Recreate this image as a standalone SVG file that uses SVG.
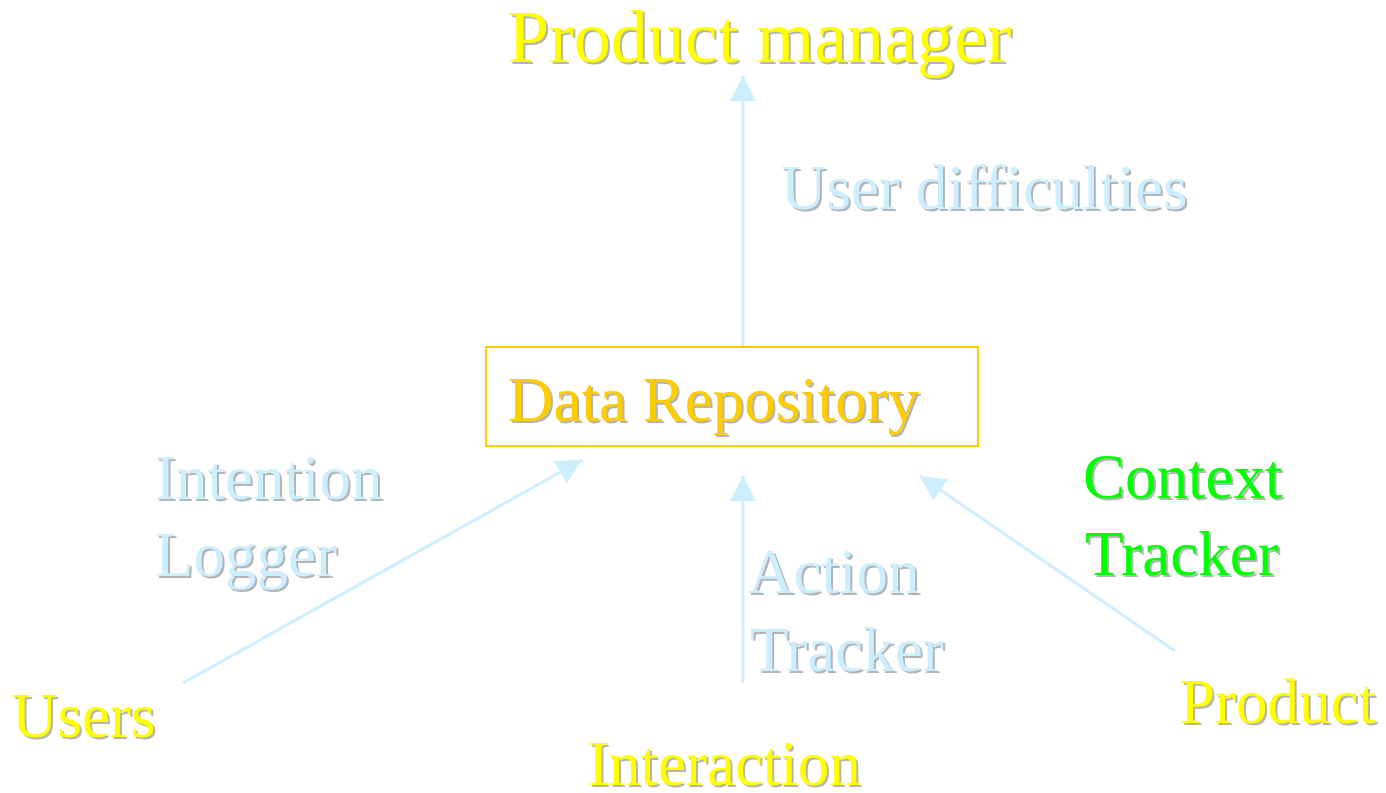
<svg xmlns="http://www.w3.org/2000/svg" width="1386" height="793" viewBox="0 0 1386 793">
<style>
  text { font-family: "Liberation Serif", "Times New Roman", serif; font-size: 63px; }
  .big { font-size: 74px; }
  .sh { fill: #b4b4b4; }
  .yel { fill: #ffff00; }
  .blu { fill: #cceeff; }
  .org { fill: #ffcc00; }
  .grn { fill: #00ff00; }
  .conn { stroke: #cceeff; stroke-width: 3; fill: none; }
</style>
<defs>
  <marker id="ah" markerUnits="userSpaceOnUse" markerWidth="26" markerHeight="26" refX="25" refY="13" orient="auto">
    <path d="M0,0 L25,13 L0,26 Z" fill="#cceeff"/>
  </marker>
</defs>
<rect width="1386" height="793" fill="#ffffff"/>

<g id="connectors">
  <line class="conn" x1="743" y1="346" x2="743" y2="76" marker-end="url(#ah)"/>
  <line class="conn" x1="743" y1="683" x2="743" y2="476" marker-end="url(#ah)"/>
  <line class="conn" x1="183" y1="683" x2="582" y2="460" marker-end="url(#ah)"/>
  <line class="conn" x1="1175" y1="651" x2="920" y2="476" marker-end="url(#ah)"/>
</g>

<g id="product-manager">
  <text class="big sh" x="510" y="64">Product manager</text>
  <text class="big yel" x="508" y="62">Product manager</text>
</g>

<g id="user-difficulties">
  <text class="sh" x="783" y="211">User difficulties</text>
  <text class="blu" x="781" y="209">User difficulties</text>
</g>

<g id="data-repository">
  <rect x="486" y="347" width="492" height="99" fill="none" stroke="#ffcc00" stroke-width="2"/>
  <text class="sh" x="510" y="423">Data Repository</text>
  <text class="org" x="508" y="421">Data Repository</text>
</g>

<g id="intention-logger">
  <text class="sh" x="157" y="501">Intention</text>
  <text class="blu" x="155" y="499">Intention</text>
  <text class="sh" x="157" y="578">Logger</text>
  <text class="blu" x="155" y="576">Logger</text>
</g>

<g id="context-tracker">
  <text class="sh" x="1085" y="500">Context</text>
  <text class="grn" x="1083" y="498">Context</text>
  <text class="sh" x="1087" y="577">Tracker</text>
  <text class="grn" x="1085" y="575">Tracker</text>
</g>

<g id="action-tracker">
  <text class="sh" x="750" y="595">Action</text>
  <text class="blu" x="748" y="593">Action</text>
  <text class="sh" x="752" y="673">Tracker</text>
  <text class="blu" x="750" y="671">Tracker</text>
</g>

<g id="users">
  <text class="sh" x="14" y="739">Users</text>
  <text class="yel" x="12" y="737">Users</text>
</g>

<g id="interaction">
  <text class="sh" x="590" y="787">Interaction</text>
  <text class="yel" x="588" y="785">Interaction</text>
</g>

<g id="product">
  <text class="sh" x="1182" y="725">Product</text>
  <text class="yel" x="1180" y="723">Product</text>
</g>
</svg>
